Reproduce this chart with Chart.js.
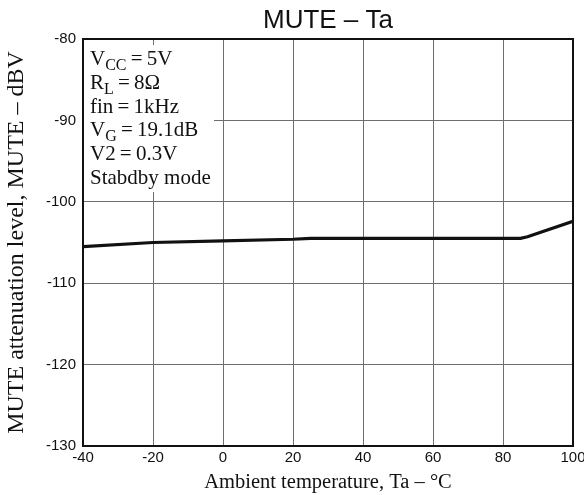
<!DOCTYPE html>
<html lang="en">
<head>
    <meta charset="UTF-8">
    <title>MUTE - Ta</title>
    <script src="https://cdn.jsdelivr.net/npm/chart.js"></script>
    <style>
        body {
            margin: 0;
            padding: 0;
            background: #fff;
        }
        .chart-box {
            width: 584px;
            height: 495px;
        }
    </style>
</head>
<body>
    <div class="chart-box">
        <canvas id="muteChart"></canvas>
    </div>

    <script>
        // values
        const temps = [-40, -20, 0, 20, 25, 85, 87, 100];
        const muteLevel = [-105.5, -105.0, -104.8, -104.6, -104.5, -104.5, -104.3, -102.4];
        const xTicks = [-40, -20, 0, 20, 40, 60, 80, 100];
        const yTicks = [-130, -120, -110, -100, -90, -80];

        const chartTitle = 'MUTE \u2013 Ta';
        const xTitle = 'Ambient temperature, Ta \u2013 \u00B0C';
        const yTitle = 'MUTE attenuation level, MUTE \u2013 dBV';

        // conditions box, each line is a list of [text, isSubscript]
        const eq = '\u2009=\u2009';
        const conditions = [
            [['V', false], ['CC', true], [eq + '5V', false]],
            [['R', false], ['L', true], [eq + '8\u03A9', false]],
            [['fin' + eq + '1kHz', false]],
            [['V', false], ['G', true], [eq + '19.1dB', false]],
            [['V2' + eq + '0.3V', false]],
            [['Stabdby mode', false]]
        ];

        const serif = '"Liberation Serif", "Times New Roman", serif';
        const sans = '"Liberation Sans", Arial, sans-serif';

        const extras = {
            id: 'extras',
            beforeDatasetsDraw(chart) {
                const ctx = chart.ctx;
                const a = chart.chartArea;
                ctx.save();
                // white box under the conditions text
                ctx.fillStyle = '#fff';
                ctx.fillRect(a.left + 1, 45, 130, 147);
                ctx.fillStyle = '#111';
                ctx.textBaseline = 'alphabetic';
                let y = 65;
                conditions.forEach(line => {
                    let x = a.left + 7;
                    line.forEach(([txt, sub]) => {
                        ctx.font = sub ? '16px ' + serif : '21px ' + serif;
                        ctx.fillText(txt, x, sub ? y + 5 : y);
                        x += ctx.measureText(txt).width;
                    });
                    y += 23.8;
                });
                ctx.restore();
            },
            afterDraw(chart) {
                const ctx = chart.ctx;
                const a = chart.chartArea;
                ctx.save();
                ctx.strokeStyle = '#111';
                ctx.lineWidth = 2;
                ctx.strokeRect(a.left, a.top, a.right - a.left, a.bottom - a.top);
                ctx.fillStyle = '#111';
                ctx.font = '26px ' + sans;
                ctx.textAlign = 'center';
                ctx.textBaseline = 'alphabetic';
                ctx.fillText(chartTitle, (a.left + a.right) / 2, 28);
                ctx.restore();
            }
        };

        new Chart(document.getElementById('muteChart'), {
            type: 'line',
            data: {
                datasets: [{
                    data: temps.map((t, i) => ({ x: t, y: muteLevel[i] })),
                    borderColor: '#111',
                    borderWidth: 3.2,
                    pointRadius: 0,
                    tension: 0,
                    fill: false
                }]
            },
            options: {
                responsive: true,
                maintainAspectRatio: false,
                animation: false,
                layout: { padding: { top: 39, right: 11, left: 0, bottom: 0 } },
                plugins: {
                    legend: { display: false },
                    tooltip: { enabled: false }
                },
                scales: {
                    x: {
                        type: 'linear',
                        min: -40,
                        max: 100,
                        afterBuildTicks: s => { s.ticks = xTicks.map(v => ({ value: v })); },
                        afterFit: s => {
                            s.height = 49;
                            s.paddingLeft = 0;
                            s.paddingRight = 0;
                        },
                        grid: { color: '#6e6e6e', lineWidth: 1, drawTicks: false },
                        border: { display: false },
                        ticks: {
                            color: '#111',
                            padding: 3,
                            maxRotation: 0,
                            font: { family: sans, size: 15 }
                        },
                        title: {
                            display: true,
                            text: xTitle,
                            color: '#111',
                            padding: { top: 1, bottom: 0 },
                            font: { family: serif, size: 20.5 }
                        }
                    },
                    y: {
                        min: -130,
                        max: -80,
                        afterBuildTicks: s => { s.ticks = yTicks.map(v => ({ value: v })); },
                        afterFit: s => { s.width = 83; },
                        grid: { color: '#6e6e6e', lineWidth: 1, drawTicks: false },
                        border: { display: false },
                        ticks: {
                            color: '#111',
                            padding: 7,
                            font: { family: sans, size: 15 }
                        },
                        title: {
                            display: true,
                            text: yTitle,
                            color: '#111',
                            padding: { top: 2, bottom: 0 },
                            font: { family: serif, size: 24 }
                        }
                    }
                }
            },
            plugins: [extras]
        });
    </script>
</body>
</html>
